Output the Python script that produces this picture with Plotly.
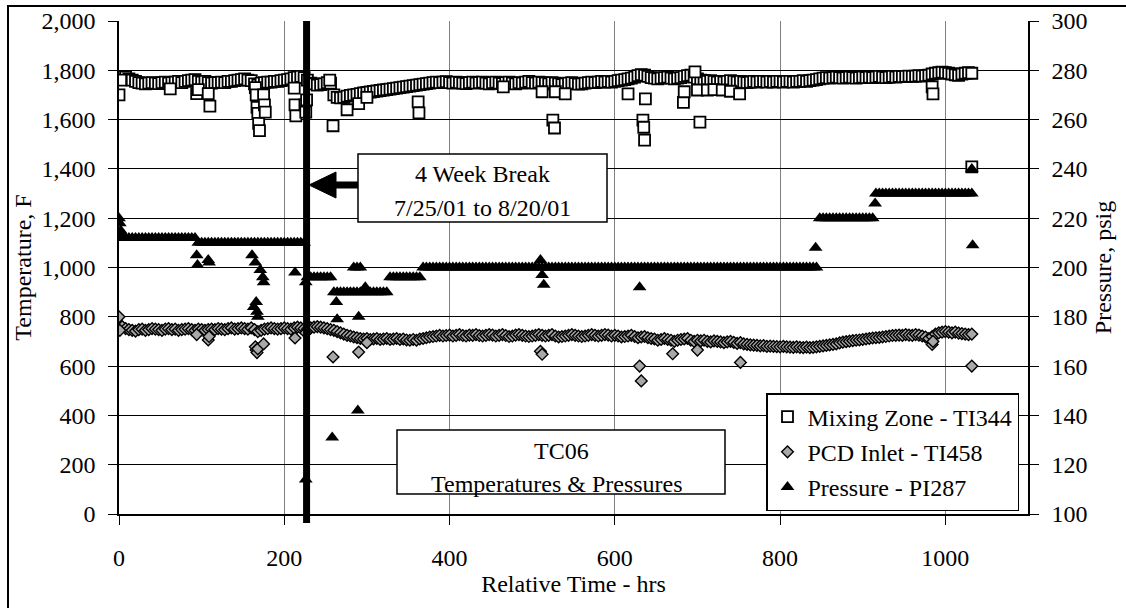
import plotly.graph_objects as go

# ---------------------------------------------------------------------------
# TC06 run: temperatures and pressure versus relative time
# ---------------------------------------------------------------------------

# sampling hours (every 4 h)
HOURS = [
    0, 4, 8, 12, 16, 20, 24, 28, 32, 36,
    40, 44, 48, 52, 56, 60, 64, 68, 72, 76,
    80, 84, 88, 92, 96, 100, 104, 108, 112, 116,
    120, 124, 128, 132, 136, 140, 144, 148, 152, 156,
    160, 164, 168, 172, 176, 180, 184, 188, 192, 196,
    200, 204, 208, 212, 216, 220, 224, 228, 232, 236,
    240, 244, 248, 252, 256, 260, 264, 268, 272, 276,
    280, 284, 288, 292, 296, 300, 304, 308, 312, 316,
    320, 324, 328, 332, 336, 340, 344, 348, 352, 356,
    360, 364, 368, 372, 376, 380, 384, 388, 392, 396,
    400, 404, 408, 412, 416, 420, 424, 428, 432, 436,
    440, 444, 448, 452, 456, 460, 464, 468, 472, 476,
    480, 484, 488, 492, 496, 500, 504, 508, 512, 516,
    520, 524, 528, 532, 536, 540, 544, 548, 552, 556,
    560, 564, 568, 572, 576, 580, 584, 588, 592, 596,
    600, 604, 608, 612, 616, 620, 624, 628, 632, 636,
    640, 644, 648, 652, 656, 660, 664, 668, 672, 676,
    680, 684, 688, 692, 696, 700, 704, 708, 712, 716,
    720, 724, 728, 732, 736, 740, 744, 748, 752, 756,
    760, 764, 768, 772, 776, 780, 784, 788, 792, 796,
    800, 804, 808, 812, 816, 820, 824, 828, 832, 836,
    840, 844, 848, 852, 856, 860, 864, 868, 872, 876,
    880, 884, 888, 892, 896, 900, 904, 908, 912, 916,
    920, 924, 928, 932, 936, 940, 944, 948, 952, 956,
    960, 964, 968, 972, 976, 980, 984, 988, 992, 996,
    1000, 1004, 1008, 1012, 1016, 1020, 1024, 1028, 1032,
]

# Mixing Zone - TI344, deg F
MIX_F = [
    1768, 1775, 1772, 1765, 1760, 1755, 1750, 1748, 1745, 1748,
    1750, 1748, 1746, 1750, 1752, 1748, 1750, 1752, 1755, 1750,
    1755, 1758, 1760, 1762, 1755, 1752, 1755, 1750, 1748, 1750,
    1750, 1752, 1750, 1755, 1755, 1758, 1760, 1762, 1765, 1760,
    1758, 1745, 1740, 1748, 1750, 1752, 1752, 1755, 1755, 1758,
    1760, 1762, 1765, 1770, 1772, 1775, 1770, 1760, 1748, 1745,
    1740, 1742, 1745, 1750, 1748, 1700, 1690, 1688, 1690, 1695,
    1698, 1700, 1702, 1705, 1708, 1710, 1712, 1714, 1716, 1718,
    1720, 1722, 1724, 1726, 1728, 1730, 1732, 1734, 1736, 1738,
    1740, 1742, 1744, 1746, 1748, 1750, 1752, 1750, 1752, 1754,
    1750, 1748, 1752, 1750, 1748, 1746, 1750, 1752, 1748, 1750,
    1752, 1748, 1745, 1750, 1752, 1748, 1746, 1750, 1752, 1748,
    1745, 1750, 1748, 1752, 1755, 1750, 1748, 1752, 1750, 1748,
    1745, 1750, 1748, 1745, 1742, 1745, 1748, 1750, 1746, 1744,
    1745, 1748, 1750, 1752, 1750, 1752, 1755, 1752, 1755, 1752,
    1755, 1758, 1760, 1762, 1765, 1768, 1772, 1778, 1782, 1780,
    1775, 1770, 1768, 1765, 1768, 1770, 1772, 1768, 1765, 1768,
    1770, 1775, 1778, 1780, 1772, 1765, 1760, 1758, 1755, 1758,
    1755, 1752, 1755, 1752, 1755, 1758, 1755, 1752, 1755, 1752,
    1750, 1752, 1755, 1752, 1755, 1755, 1752, 1755, 1752, 1755,
    1755, 1752, 1755, 1755, 1752, 1755, 1755, 1758, 1755, 1758,
    1760, 1762, 1765, 1768, 1770, 1768, 1770, 1772, 1770, 1768,
    1770, 1772, 1770, 1768, 1770, 1772, 1770, 1772, 1770, 1772,
    1775, 1772, 1770, 1772, 1775, 1772, 1775, 1774, 1775, 1776,
    1775, 1776, 1778, 1776, 1778, 1780, 1785, 1788, 1790, 1792,
    1790, 1788, 1785, 1782, 1780, 1785, 1788, 1790, 1788,
]
MIX_DIP_HRS = [0, 2, 62, 94, 96, 108, 110, 165, 166, 167, 168, 169, 170, 175, 176, 177, 212, 213, 214,
               225, 226, 227, 255, 259, 276, 290, 300, 362, 363, 465, 512, 525, 527, 528, 540, 616, 634,
               635, 636, 637, 683, 684, 697, 700, 703, 712, 720, 730, 740, 751, 984, 985, 1032]
MIX_DIP_F = [1700, 1760, 1725, 1705, 1722, 1705, 1655, 1730, 1700, 1650, 1625, 1585, 1555, 1700, 1660, 1630, 1728, 1660, 1615,
             1660, 1630, 1680, 1760, 1575, 1640, 1665, 1690, 1672, 1627, 1733, 1713, 1598, 1566, 1713, 1704, 1704, 1598,
             1569, 1517, 1684, 1670, 1713, 1794, 1720, 1590, 1720, 1722, 1720, 1715, 1704, 1733, 1704, 1408]

# PCD Inlet - TI458, deg F
PCD_F = [
    755, 760, 752, 748, 745, 742, 748, 750, 745, 748,
    752, 750, 748, 745, 750, 752, 748, 750, 745, 748,
    750, 752, 748, 745, 750, 748, 745, 748, 750, 748,
    752, 750, 748, 752, 755, 750, 752, 755, 752, 750,
    755, 748, 740, 745, 750, 752, 755, 752, 750, 752,
    755, 752, 750, 755, 758, 755, 752, 750, 755, 758,
    760, 758, 755, 752, 748, 745, 740, 735, 730, 725,
    722, 718, 715, 712, 710, 712, 708, 710, 712, 708,
    710, 712, 708, 710, 712, 708, 710, 706, 705, 708,
    705, 710, 712, 715, 718, 720, 722, 725, 722, 724,
    726, 722, 725, 728, 724, 722, 726, 725, 728, 724,
    722, 725, 728, 726, 722, 725, 728, 724, 720, 722,
    726, 728, 725, 722, 720, 722, 725, 728, 725, 722,
    725, 728, 722, 718, 720, 722, 725, 728, 725, 722,
    720, 722, 725, 728, 725, 722, 725, 728, 726, 722,
    725, 722, 718, 720, 722, 725, 720, 715, 718, 720,
    715, 712, 710, 705, 708, 712, 708, 705, 700, 705,
    708, 710, 712, 705, 700, 705, 702, 705, 700, 698,
    702, 700, 698, 695, 698, 700, 696, 692, 695, 690,
    688, 686, 685, 684, 682, 683, 680, 681, 680, 679,
    678, 680, 678, 677, 676, 678, 676, 675, 677, 675,
    676, 678, 680, 682, 684, 686, 688, 690, 694, 697,
    699, 701, 703, 705, 706, 708, 710, 712, 714, 715,
    716, 718, 720, 722, 724, 725, 726, 725, 728, 726,
    725, 728, 726, 722, 718, 712, 720, 730, 735, 738,
    740, 738, 735, 738, 734, 732, 730, 728, 730,
]
PCD_DIP_HRS = [0, 1, 94, 108, 109, 165, 166, 167, 168, 175, 213, 226, 259, 290, 300, 510, 512, 630, 632,
               670, 700, 752, 984, 985, 1032]
PCD_DIP_F = [800, 745, 728, 706, 720, 678, 665, 655, 670, 690, 714, 735, 637, 657, 695, 660, 648, 600, 540,
             650, 665, 615, 688, 700, 600]

# Pressure - PI287, psig
PRESS_PSIG = [
    212, 212, 212, 212, 212, 212, 212, 212, 212, 212,
    212, 212, 212, 212, 212, 212, 212, 212, 212, 212,
    212, 212, 212, 212, 210, 210, 210, 210, 210, 210,
    210, 210, 210, 210, 210, 210, 210, 210, 210, 210,
    210, 210, 210, 210, 210, 210, 210, 210, 210, 210,
    210, 210, 210, 210, 210, 210, 210, 196, 196, 196,
    196, 196, 196, 196, 196, 190, 190, 190, 190, 190,
    190, 190, 190, 190, 190, 190, 190, 190, 190, 190,
    190, 190, 196, 196, 196, 196, 196, 196, 196, 196,
    196, 196, 200, 200, 200, 200, 200, 200, 200, 200,
    200, 200, 200, 200, 200, 200, 200, 200, 200, 200,
    200, 200, 200, 200, 200, 200, 200, 200, 200, 200,
    200, 200, 200, 200, 200, 200, 200, 200, 200, 200,
    200, 200, 200, 200, 200, 200, 200, 200, 200, 200,
    200, 200, 200, 200, 200, 200, 200, 200, 200, 200,
    200, 200, 200, 200, 200, 200, 200, 200, 200, 200,
    200, 200, 200, 200, 200, 200, 200, 200, 200, 200,
    200, 200, 200, 200, 200, 200, 200, 200, 200, 200,
    200, 200, 200, 200, 200, 200, 200, 200, 200, 200,
    200, 200, 200, 200, 200, 200, 200, 200, 200, 200,
    200, 200, 200, 200, 200, 200, 200, 200, 200, 200,
    200, 200, 220, 220, 220, 220, 220, 220, 220, 220,
    220, 220, 220, 220, 220, 220, 220, 220, 220, 230,
    230, 230, 230, 230, 230, 230, 230, 230, 230, 230,
    230, 230, 230, 230, 230, 230, 230, 230, 230, 230,
    230, 230, 230, 230, 230, 230, 230, 230, 230,
]
PRESS_DIP_HRS = [0, 1, 2, 3, 94, 95, 108, 109, 161, 163, 165, 166, 167, 168, 171, 174, 175, 213, 226, 226,
                 258, 263, 264, 284, 288, 292, 289, 290, 298, 510, 512, 514, 630, 843, 915, 1032, 1033]
PRESS_DIP_PSIG = [220, 218, 215, 214, 205, 201, 203, 202, 205, 184, 202, 186, 182, 180, 199, 196, 194, 198, 194, 114,
                  131, 186, 179, 200, 200, 200, 142, 180, 192, 203, 197, 193, 192, 208, 226, 240, 209]

BREAK_HOURS = 227  # plant down 7/25/01 to 8/20/01

assert len(HOURS) == len(MIX_F) == len(PCD_F) == len(PRESS_PSIG), (len(HOURS), len(MIX_F), len(PCD_F), len(PRESS_PSIG))
assert len(MIX_DIP_HRS) == len(MIX_DIP_F)
assert len(PCD_DIP_HRS) == len(PCD_DIP_F)
assert len(PRESS_DIP_HRS) == len(PRESS_DIP_PSIG)

FONT = "Liberation Serif, Times New Roman, serif"
FS = 24

# plot-area geometry in pixels (used to place boxes and text)
W, H = 1126, 608
L, T, R, B = 119, 21, 1028, 514


def px(x):
    return (x - L) / (R - L)


def py(y):
    return (B - y) / (B - T)


fig = go.Figure()

fig.add_trace(go.Scatter(
    x=HOURS + MIX_DIP_HRS, y=MIX_F + MIX_DIP_F, mode="markers",
    name="Mixing Zone - TI344", legendgroup="a",
    marker=dict(symbol="square", size=11, color="white", line=dict(color="black", width=1.8)),
))
fig.add_trace(go.Scatter(
    x=HOURS + PCD_DIP_HRS, y=PCD_F + PCD_DIP_F, mode="markers",
    name="PCD Inlet - TI458", legendgroup="b",
    marker=dict(symbol="diamond", size=9, color="#a8a8a8", line=dict(color="black", width=1.4)),
))
fig.add_trace(go.Scatter(
    x=HOURS + PRESS_DIP_HRS, y=PRESS_PSIG + PRESS_DIP_PSIG, mode="markers",
    name="Pressure - PI287", legendgroup="c", yaxis="y2",
    marker=dict(symbol="triangle-up", size=12, color="black", line=dict(width=0)),
))

shapes = [
    # outer chart frame
    dict(type="rect", xref="paper", yref="paper", x0=px(8), x1=px(1140), y0=py(620), y1=py(6),
         line=dict(color="black", width=2), fillcolor="rgba(0,0,0,0)", layer="above"),
    # break marker
    dict(type="line", xref="x", yref="paper", x0=BREAK_HOURS, x1=BREAK_HOURS, y0=py(523), y1=1,
         line=dict(color="black", width=7), layer="above"),
    # break note box
    dict(type="rect", xref="paper", yref="paper", x0=px(358), x1=px(607), y0=py(222), y1=py(154),
         line=dict(color="black", width=1.5), fillcolor="white", layer="above"),
    # arrow shaft and head
    dict(type="line", xref="paper", yref="paper", x0=px(358), x1=px(330), y0=py(185), y1=py(185),
         line=dict(color="black", width=7), layer="above"),
    dict(type="path", xref="paper", yref="paper",
         path=f"M {px(309)},{py(185)} L {px(336)},{py(172)} L {px(336)},{py(198)} Z",
         line=dict(color="black", width=1), fillcolor="black", layer="above"),
    # title box
    dict(type="rect", xref="paper", yref="paper", x0=px(397), x1=px(725), y0=py(494), y1=py(430),
         line=dict(color="black", width=1.5), fillcolor="white", layer="above"),
]

annotations = [
    dict(text="4 Week Break", x=px(482), y=py(174)),
    dict(text="7/25/01 to 8/20/01", x=px(482), y=py(208)),
    dict(text="TC06", x=px(561), y=py(451)),
    dict(text="Temperatures &amp; Pressures", x=px(557), y=py(484)),
]
for a in annotations:
    a.update(xref="paper", yref="paper", showarrow=False, xanchor="center", yanchor="middle",
             font=dict(family=FONT, size=FS, color="black"))

axis_common = dict(
    showline=True, linecolor="black", linewidth=1.5,
    ticks="outside", ticklen=9, tickwidth=1, tickcolor="black",
    tickfont=dict(family=FONT, size=FS, color="black"),
    zeroline=False,
)

fig.update_layout(
    width=W, height=H,
    margin=dict(l=L, r=W - R, t=T, b=H - B, autoexpand=False),
    paper_bgcolor="white", plot_bgcolor="white",
    font=dict(family=FONT, size=FS, color="black"),
    showlegend=True,
    legend=dict(
        x=px(766), y=py(393), xanchor="left", yanchor="top",
        bgcolor="white", bordercolor="black", borderwidth=1.5,
        font=dict(family=FONT, size=FS, color="black"),
        tracegroupgap=1, itemwidth=30,
    ),
    xaxis=dict(
        range=[0, 1100], dtick=200, tick0=0,
        showgrid=True, gridcolor="#808080", gridwidth=1,
        ticklabelstandoff=12,
        title=dict(text="Relative Time - hrs", font=dict(family=FONT, size=FS), standoff=6),
        **axis_common,
    ),
    yaxis=dict(
        range=[0, 2000], dtick=200, tickformat=",d",
        showgrid=True, gridcolor="black", gridwidth=1,
        ticklabelstandoff=8,
        title=dict(text="Temperature, F", font=dict(family=FONT, size=FS), standoff=3),
        **axis_common,
    ),
    yaxis2=dict(
        range=[100, 300], dtick=20, overlaying="y", side="right",
        showgrid=False, ticklabelstandoff=8,
        title=dict(text="Pressure, psig", font=dict(family=FONT, size=FS), standoff=8),
        **axis_common,
    ),
    shapes=shapes,
    annotations=annotations,
)

fig.write_html("out.html")
